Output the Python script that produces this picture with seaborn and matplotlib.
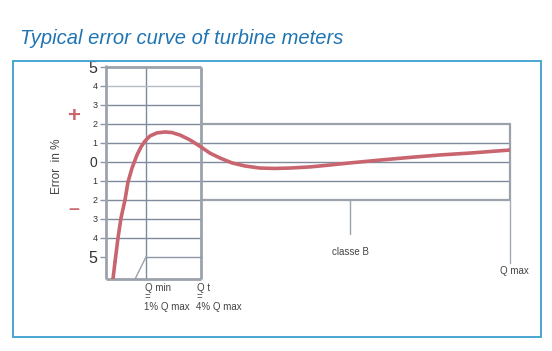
import matplotlib
matplotlib.use("Agg")
import matplotlib.pyplot as plt
import seaborn as sns
import pandas as pd
from matplotlib.patches import Rectangle

# ---- data (schematic, relative flow units 0..100) ----
flow = [2.23, 2.97, 3.71, 4.70, 5.45, 6.44, 7.67, 8.66, 9.65, 10.9, 12.6, 14.6,
        16.3, 18.3, 20.8, 23.5, 25.7, 28.2, 31.2, 34.4, 38.1, 41.8, 45.5, 50.5,
        55.4, 60.4, 67.8, 75.2, 82.7, 90.1, 100.0]
error = [-5.26, -4.0, -2.95, -2.0, -1.05, -0.32, 0.37, 0.79, 1.1, 1.37, 1.53, 1.58,
         1.55, 1.42, 1.16, 0.79, 0.47, 0.21, -0.05, -0.21, -0.32, -0.34, -0.32, -0.26,
         -0.16, -0.05, 0.10, 0.24, 0.37, 0.47, 0.63]
flow_start = [1.73, 2.23]
error_start = [-6.16, -5.26]

y_levels = [5, 4, 3, 2, 1, 0, -1, -2, -3, -4, -5]
y_labels = ["5", "4", "3", "2", "1", "0", "1", "2", "3", "4", "5"]
q_min, q_t, q_max, classe_b = 9.9, 23.5, 100.0, 60.4
band = 2
y_bottom, y_top = -6.16, 5.0

sns.set_theme(style="white")
plt.rcParams['font.family'] = ['Liberation Sans', 'DejaVu Sans']

fig = plt.figure(figsize=(5.52, 3.51), dpi=100)
W, H = 552, 351

# outer frame
fig.patches.append(Rectangle((13 / W, 1 - 337 / H), (541 - 13) / W, (337 - 61) / H,
                             transform=fig.transFigure, fill=False,
                             edgecolor="#3c9fd0", linewidth=1.3))

ax = fig.add_axes([106 / W, (H - 279) / H, 404 / W, (279 - 67) / H])
ax.set_xlim(0, 100)
ax.set_ylim(y_bottom, y_top)
for s in ax.spines.values():
    s.set_visible(False)
ax.set_xticks([])
ax.patch.set_alpha(0)

thick = dict(color="#9ba2ab", linewidth=2.0, solid_capstyle="butt", zorder=2, clip_on=False)
thin = dict(color="#7f8b9c", linewidth=1.0, zorder=1, clip_on=False)

# left spine / box
ax.plot([0, 0], [y_bottom, y_top + 0.1], **thick)
ax.plot([0, q_t], [y_top, y_top], **thick)
ax.plot([0, q_t], [y_bottom, y_bottom], **thick)
ax.plot([q_t, q_t], [y_bottom, y_top], **thick)
ax.plot([q_min, q_min], [y_bottom, y_top], **thin)
for lv in y_levels[1:-1]:
    c = "#b5bcc5" if lv == 4 else "#7f8b9c"
    ax.plot([0, q_t], [lv, lv], color=c, linewidth=1.0, zorder=1, clip_on=False)

# small box at bottom
ax.plot([q_min, q_t], [-5, -5], color="#8d97a5", linewidth=1.0, clip_on=False)
ax.plot([7.2, q_min], [y_bottom, -5], color="#9aa2ac", linewidth=1.0, clip_on=False)

# right accuracy band
band_style = dict(color="#9ba2ab", linewidth=1.6, clip_on=False)
ax.plot([q_t, q_max], [band, band], **band_style)
ax.plot([q_t, q_max], [-band, -band], **band_style)
ax.plot([q_max, q_max], [-band, band], **band_style)
for lv in [1, 0, -1]:
    ax.plot([q_t, q_max], [lv, lv], **thin)
ax.plot([q_max, q_max], [-band, -5.3], color="#a3aab3", linewidth=1.0, clip_on=False)
ax.plot([classe_b, classe_b], [-band, -3.8], color="#9aa2ac", linewidth=1.0, clip_on=False)

# error curve
df = pd.DataFrame({"flow": flow, "error": error})
sns.lineplot(data=df, x="flow", y="error", ax=ax, color="#c9656f", linewidth=2.6,
             sort=False, zorder=5)
ax.plot(flow_start, error_start, color="#c9656f", linewidth=2.6, zorder=5)
ax.set_xlabel("")
ax.set_ylabel("")

# y ticks
ax.set_yticks(y_levels)
ax.set_yticklabels(y_labels)
ax.tick_params(axis="y", left=True, length=4, width=1, color="#8d97a5", pad=2,
               labelcolor="#333333")
for t, lv in zip(ax.get_yticklabels(), y_levels):
    if abs(lv) == 5:
        t.set_fontsize(11.5)
    elif lv == 0:
        t.set_fontsize(10)
    else:
        t.set_fontsize(6.5)

# texts
txt = dict(color="#444444", fontsize=7)
ax.text(classe_b, -4.75, "classe B", ha="center", va="center", **txt)
ax.text(q_max + 1.0, -5.75, "Q max", ha="center", va="center", **txt)

fig.text(145 / W, 1 - 288 / H, "Q min", ha="left", va="center", **txt)
fig.text(145 / W, 1 - 297 / H, "=", ha="left", va="center", **txt)
fig.text(144 / W, 1 - 307 / H, "1% Q max", ha="left", va="center", **txt)
fig.text(197 / W, 1 - 288 / H, "Q t", ha="left", va="center", **txt)
fig.text(197 / W, 1 - 297 / H, "=", ha="left", va="center", **txt)
fig.text(196 / W, 1 - 307 / H, "4% Q max", ha="left", va="center", **txt)

fig.text(57 / W, 1 - 166 / H, "Error  in %", rotation=90, ha="center", va="center",
         color="#444444", fontsize=8.5)
fig.text(74 / W, 1 - 116 / H, "+", ha="center", va="center", color="#c9656f",
         fontsize=16, fontweight="bold")
fig.text(74 / W, 1 - 210 / H, "\u2013", ha="center", va="center", color="#c9656f",
         fontsize=14, fontweight="bold")

fig.text(20 / W, 1 - 38 / H, "Typical error curve of turbine meters", ha="left",
         va="center", color="#1f74b2", fontsize=14.5, fontstyle="italic")

fig.savefig("out.png", dpi=100)
